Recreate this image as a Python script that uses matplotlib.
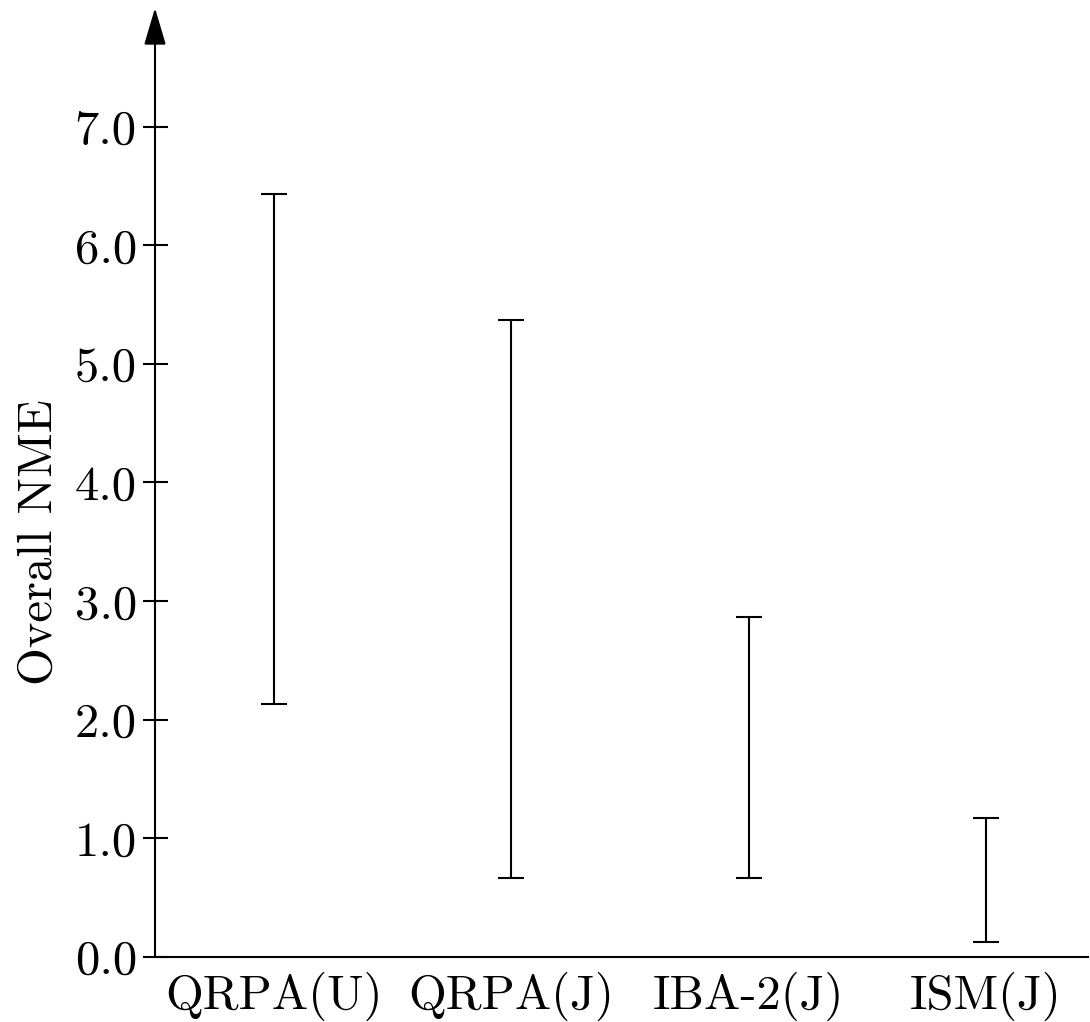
import matplotlib
matplotlib.use("Agg")
import matplotlib.pyplot as plt
import numpy as np

plt.rcParams["font.family"] = "serif"
plt.rcParams["font.serif"] = ["cmr10", "DejaVu Serif"]
plt.rcParams["mathtext.fontset"] = "cm"
plt.rcParams["axes.unicode_minus"] = False

# Model names and the range of overall NME for each
models = ["QRPA(U)", "QRPA(J)", "IBA-2(J)", "ISM(J)"]
nme_low = [2.13, 0.67, 0.67, 0.13]
nme_high = [6.43, 5.37, 2.87, 1.17]
y_ticks = [0.0, 1.0, 2.0, 3.0, 4.0, 5.0, 6.0, 7.0]
y_tick_labels = ["0.0", "1.0", "2.0", "3.0", "4.0", "5.0", "6.0", "7.0"]

W, H = 1090, 1022
fig = plt.figure(figsize=(W / 100, H / 100), dpi=100)
ax = fig.add_axes([155 / W, (H - 957) / H, (1088 - 155) / W, (957 - 8) / H])

x = np.arange(len(models))
low = np.array(nme_low)
high = np.array(nme_high)
mid = (low + high) / 2
half = (high - low) / 2

ax.errorbar(x, mid, yerr=half, fmt="none", ecolor="black",
            elinewidth=1.5, capsize=9.4, capthick=1.5)

ax.set_xlim(-0.5, 3.43)
ax.set_ylim(0, 8)

for s in ("top", "right"):
    ax.spines[s].set_visible(False)
ax.spines["left"].set_visible(False)
ax.spines["bottom"].set_linewidth(1.5)

# y axis drawn as an arrow
ax.annotate("", xy=(0, 1), xytext=(0, 0), xycoords="axes fraction",
            textcoords="axes fraction",
            arrowprops=dict(arrowstyle="-|>,head_length=23,head_width=6.8",
                            mutation_scale=1, lw=1.5, color="black",
                            shrinkA=0, shrinkB=0),
            annotation_clip=False)

ax.set_yticks(y_ticks)
ax.set_yticklabels(y_tick_labels)
ax.set_xticks(x)
ax.set_xticklabels(models)
ax.tick_params(axis="y", direction="inout", length=18, width=1.5,
               labelsize=35, pad=4)
ax.tick_params(axis="x", length=0, labelsize=35, pad=11)
ax.set_ylabel("Overall NME", fontsize=35)
ax.yaxis.set_label_coords(-0.100, 3.5 / 8)

fig.savefig("out.png", dpi=100)
